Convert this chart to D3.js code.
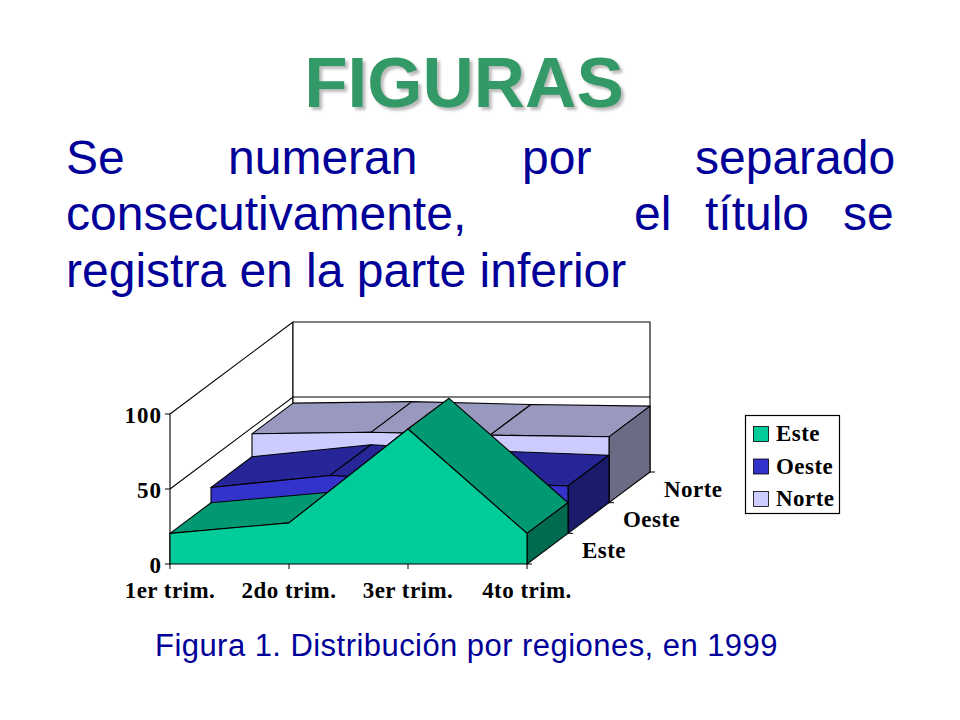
<!DOCTYPE html>
<html lang="es">
<head>
    <meta charset="UTF-8"/>
    <title>Figuras</title>
    <script src="https://cdnjs.cloudflare.com/ajax/libs/d3/7.8.5/d3.min.js"></script>
    <style>
        html, body { margin: 0; padding: 0; background: #fff; }
        svg { display: block; }
        .sans { font-family: "Liberation Sans", Arial, sans-serif; }
        .serif { font-family: "Liberation Serif", "Times New Roman", serif; font-weight: bold; fill: #000; font-size: 23px; letter-spacing: 0.45px; }
    </style>
</head>
<body>
<div id="slide"></div>

<script>
    // Chart data
    const categories = ["1er trim.", "2do trim.", "3er trim.", "4to trim."];
    const seriesNames = ["Este", "Oeste", "Norte"];
    const este = [20.4, 27.4, 90, 20.4];
    const oeste = [30.6, 38.6, 34.6, 31.6];
    const norte = [45.9, 46.9, 45, 43.9];
    const yTicks = [0, 50, 100];

    // Slide text
    const titleText = "FIGURAS";
    const bodyLines = [
        [["Se", 66], ["numeran", 228], ["por", 522], ["separado", 695]],
        [["consecutivamente,", 66], ["el", 634], ["título", 705], ["se", 843]],
        [["registra en la parte inferior", 66]]
    ];
    const caption = "Figura 1. Distribución por regiones, en 1999";

    const seriesValues = [este, oeste, norte];
    const colors = {
        Este: {front: "#00cc99", top: "#009973", side: "#006b50"},
        Oeste: {front: "#3333cc", top: "#262699", side: "#1b1b6b"},
        Norte: {front: "#ccccff", top: "#9999bf", side: "#6b6b86"}
    };

    const width = 960;
    const height = 720;

    const svg = d3.select("#slide").append("svg")
        .attr("width", width)
        .attr("height", height);

    // Title with its soft shadow
    svg.append("text")
        .attr("class", "sans")
        .attr("x", 464)
        .attr("y", 107)
        .attr("text-anchor", "middle")
        .attr("font-size", 71)
        .attr("font-weight", "bold")
        .attr("fill", "#339966")
        .style("text-shadow", "3px 3px 3px #bbb")
        .text(titleText);

    // Body text, justified by hand
    const bodyBaselines = [174, 230, 287];
    bodyLines.forEach((words, i) => {
        words.forEach(([word, x]) => {
            svg.append("text")
                .attr("class", "sans")
                .attr("x", x)
                .attr("y", bodyBaselines[i])
                .attr("font-size", 48)
                .attr("fill", "#000099")
                .text(word);
        });
    });

    svg.append("text")
        .attr("class", "sans")
        .attr("x", 155)
        .attr("y", 656)
        .attr("font-size", 31)
        .attr("letter-spacing", 0.45)
        .attr("fill", "#000099")
        .text(caption);

    // Scales: x along the front edge, y up, depth gives the oblique shift
    const xScale = d3.scalePoint().domain(categories).range([170, 527]);
    const yScale = d3.scaleLinear().domain([0, 100]).range([564, 414]);
    const depthDx = d3.scaleLinear().domain([0, 3]).range([0, 123]);
    const depthDy = d3.scaleLinear().domain([0, 3]).range([0, -92]);

    function project(cat, value, depth) {
        return [xScale(cat) + depthDx(depth), yScale(value) + depthDy(depth)];
    }

    function poly(points, fill) {
        svg.append("path")
            .attr("d", d3.line()(points) + "Z")
            .attr("fill", fill)
            .attr("stroke", "#000")
            .attr("stroke-width", 1.1)
            .attr("stroke-linejoin", "round");
    }

    const first = categories[0];
    const last = categories[categories.length - 1];

    // Walls
    poly([project(first, 0, 0), project(first, 100, 0), project(first, 100, 3), project(first, 0, 3)], "#fff");
    poly([project(first, 0, 3), project(first, 100, 3), project(last, 100, 3), project(last, 0, 3)], "#fff");

    yTicks.filter((t) => t > 0 && t < 100).forEach((t) => {
        const pts = [project(first, t, 0), project(first, t, 3), project(last, t, 3)];
        svg.append("path")
            .attr("d", d3.line()(pts))
            .attr("fill", "none")
            .attr("stroke", "#000")
            .attr("stroke-width", 1.1);
    });

    // Areas from the back to the front
    d3.range(seriesNames.length - 1, -1, -1).forEach((s) => {
        const values = seriesValues[s];
        const c = colors[seriesNames[s]];

        // top strips
        d3.pairs(categories.map((cat, i) => ({cat, v: values[i]}))).forEach(([a, b]) => {
            poly([
                project(a.cat, a.v, s),
                project(b.cat, b.v, s),
                project(b.cat, b.v, s + 1),
                project(a.cat, a.v, s + 1)
            ], c.top);
        });

        // right side
        const lastValue = values[values.length - 1];
        poly([
            project(last, 0, s),
            project(last, lastValue, s),
            project(last, lastValue, s + 1),
            project(last, 0, s + 1)
        ], c.side);

        // front face
        const frontPts = categories.map((cat, i) => project(cat, values[i], s));
        poly([project(first, 0, s)].concat(frontPts, [project(last, 0, s)]), c.front);
    });

    // Value axis
    yTicks.forEach((t) => {
        svg.append("line")
            .attr("x1", xScale(first) - 5).attr("x2", xScale(first))
            .attr("y1", yScale(t)).attr("y2", yScale(t))
            .attr("stroke", "#000");
        svg.append("text")
            .attr("class", "serif")
            .attr("x", 162)
            .attr("y", yScale(t) + 8.5)
            .attr("text-anchor", "end")
            .style("letter-spacing", "1px")
            .text(t);
    });

    // Category axis
    categories.forEach((cat) => {
        svg.append("line")
            .attr("x1", xScale(cat)).attr("x2", xScale(cat))
            .attr("y1", yScale(0)).attr("y2", yScale(0) + 5)
            .attr("stroke", "#000");
        svg.append("text")
            .attr("class", "serif")
            .attr("x", xScale(cat))
            .attr("y", 598)
            .attr("text-anchor", "middle")
            .text(cat);
    });

    // Depth axis
    d3.range(0, seriesNames.length + 1).forEach((d) => {
        const [px, py] = project(last, 0, d);
        svg.append("line")
            .attr("x1", px).attr("x2", px + 5)
            .attr("y1", py).attr("y2", py)
            .attr("stroke", "#000");
    });
    seriesNames.forEach((name, d) => {
        const [px, py] = project(last, 0, d);
        svg.append("text")
            .attr("class", "serif")
            .attr("x", px + 55)
            .attr("y", py - 6)
            .text(name);
    });

    // Legend
    const legendY = d3.scalePoint().domain(seriesNames).range([434, 499]);

    svg.append("rect")
        .attr("x", 745.5).attr("y", 415.5)
        .attr("width", 94).attr("height", 98)
        .attr("fill", "#fff")
        .attr("stroke", "#000")
        .attr("stroke-width", 1.2);

    seriesNames.forEach((name) => {
        svg.append("rect")
            .attr("x", 753.5)
            .attr("y", legendY(name) - 7.5)
            .attr("width", 15).attr("height", 15)
            .attr("fill", colors[name].front)
            .attr("stroke", "#000")
            .attr("stroke-width", 0.8);
        svg.append("text")
            .attr("class", "serif")
            .attr("x", 776)
            .attr("y", legendY(name) + 7)
            .text(name);
    });
</script>
</body>
</html>
